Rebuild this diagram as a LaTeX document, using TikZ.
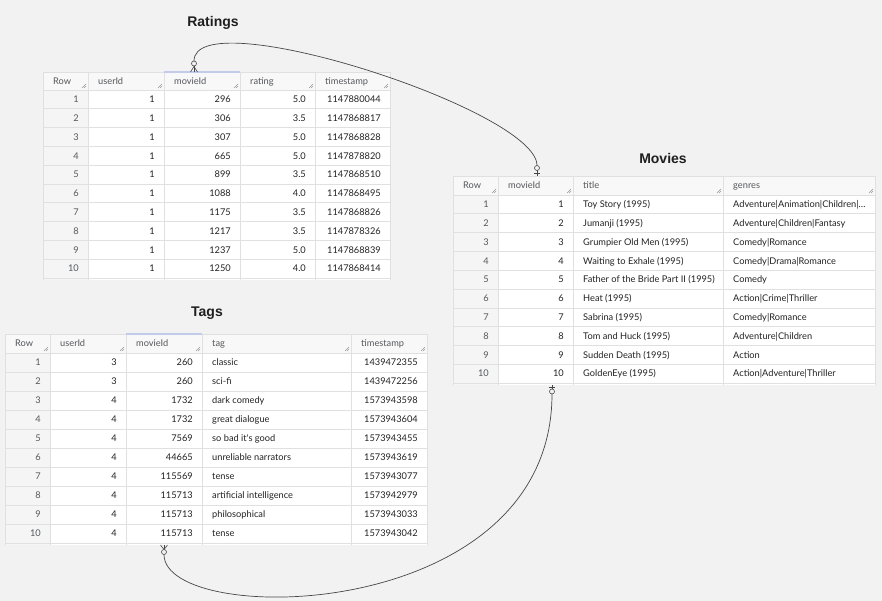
\documentclass[tikz,border=0pt]{standalone}
\usepackage{fontspec}
\setmainfont{Liberation Sans}
\newfontfamily\cellff{Lato}
\usetikzlibrary{calc}
\definecolor{canvas}{RGB}{242,242,242}
\definecolor{hdrbg}{RGB}{248,248,248}
\definecolor{rowbg}{RGB}{245,245,245}
\definecolor{gridc}{RGB}{224,224,224}
\definecolor{hdrtxt}{RGB}{85,88,92}
\definecolor{datatxt}{RGB}{35,35,35}
\definecolor{selc}{RGB}{195,203,235}
\definecolor{linkc}{RGB}{70,70,70}
\tikzset{
 cellfont/.style={font=\cellff\fontsize{9.25}{11}\selectfont, inner sep=0pt, text height=6.7pt, text depth=0pt},
 hdr/.style={cellfont, anchor=west, text=hdrtxt},
 rnum/.style={cellfont, anchor=east, text=hdrtxt},
 num/.style={cellfont, anchor=east, text=datatxt},
 txt/.style={cellfont, anchor=west, text=datatxt},
 ttl/.style={font=\bfseries\fontsize{14}{16}\selectfont, text=black!88, inner sep=0pt},
 gridl/.style={draw=gridc, line width=0.6pt},
 grip/.style={draw=black!40, line width=0.4pt},
 sel/.style={draw=selc, line width=1.5pt},
 link/.style={draw=linkc, line width=0.7pt},
 erm/.style={draw=linkc, line width=0.6pt},
 ercirc/.style={draw=linkc, fill=canvas, line width=0.6pt},
}
\begin{document}
\begin{tikzpicture}[x=1pt,y=-1pt]
\fill[canvas] (0,0) rectangle (882,601);
\useasboundingbox (0,0) rectangle (882,601);

% ---------------- Titles
\node[ttl] (tR) at (213,23) {Ratings};
\node[ttl] (tM) at (663,158) {Movies};
\node[ttl] (tT) at (207,313) {Tags};

% ---------------- Ratings table
\fill[white] (43,90) rectangle (390,280);
\fill[hdrbg] (43,72) rectangle (390,90);
\fill[rowbg] (43,90) rectangle (88,280);
\foreach \i in {0,...,10} \draw[gridl] (43,{90+\i*18.8}) -- (390,{90+\i*18.8});
\draw[gridl] (43,72) -- (390,72);
\foreach \x in {43,88,164,240,315,390} \draw[gridl] (\x,72) -- (\x,280);
\draw[sel] (164,72) -- (240,72);
\foreach \x in {88,164,240,315,390} {\draw[grip] (\x-6,88) -- (\x-2,84); \draw[grip] (\x-4,88) -- (\x-2,86);}
\node[hdr] (Rh1) at (53,81) {Row};
\node[hdr] (Rh2) at (98,81) {userId};
\node[hdr] (Rh3) at (174,81) {movieId};
\node[hdr] (Rh4) at (250,81) {rating};
\node[hdr] (Rh5) at (325,81) {timestamp};
\foreach \r/\a/\b/\c/\d in {1/1/296/5.0/1147880044, 2/1/306/3.5/1147868817, 3/1/307/5.0/1147868828, 4/1/665/5.0/1147878820, 5/1/899/3.5/1147868510, 6/1/1088/4.0/1147868495, 7/1/1175/3.5/1147868826, 8/1/1217/3.5/1147878326, 9/1/1237/5.0/1147868839, 10/1/1250/4.0/1147868414} {
 \node[rnum] (R-\r-1) at (79,{90+(\r-0.5)*18.8}) {\r};
 \node[num] (R-\r-2) at (155,{90+(\r-0.5)*18.8}) {\a};
 \node[num] (R-\r-3) at (231,{90+(\r-0.5)*18.8}) {\b};
 \node[num] (R-\r-4) at (306,{90+(\r-0.5)*18.8}) {\c};
 \node[num] (R-\r-5) at (381,{90+(\r-0.5)*18.8}) {\d};
}

% ---------------- Movies table
\fill[white] (453,195) rectangle (875,385);
\fill[hdrbg] (453,176) rectangle (875,195);
\fill[rowbg] (453,195) rectangle (498,385);
\foreach \i in {0,...,10} \draw[gridl] (453,{195+\i*18.8}) -- (875,{195+\i*18.8});
\draw[gridl] (453,176) -- (875,176);
\foreach \x in {453,498,573,723,875} \draw[gridl] (\x,176) -- (\x,385);
\foreach \x in {498,573,723,875} {\draw[grip] (\x-6,193) -- (\x-2,189); \draw[grip] (\x-4,193) -- (\x-2,191);}
\node[hdr] (Mh1) at (463,185.5) {Row};
\node[hdr] (Mh2) at (508,185.5) {movieId};
\node[hdr] (Mh3) at (583,185.5) {title};
\node[hdr] (Mh4) at (733,185.5) {genres};
\foreach \r/\t/\g in {1/Toy Story (1995)/Adventure|Animation|Children|…, 2/Jumanji (1995)/Adventure|Children|Fantasy, 3/Grumpier Old Men (1995)/Comedy|Romance, 4/Waiting to Exhale (1995)/Comedy|Drama|Romance, 5/Father of the Bride Part II (1995)/Comedy, 6/Heat (1995)/Action|Crime|Thriller, 7/Sabrina (1995)/Comedy|Romance, 8/Tom and Huck (1995)/Adventure|Children, 9/Sudden Death (1995)/Action, 10/GoldenEye (1995)/Action|Adventure|Thriller} {
 \node[rnum] (M-\r-1) at (489,{195+(\r-0.5)*18.8}) {\r};
 \node[num] (M-\r-2) at (564,{195+(\r-0.5)*18.8}) {\r};
 \node[txt] (M-\r-3) at (583,{195+(\r-0.5)*18.8}) {\t};
 \node[txt] (M-\r-4) at (733,{195+(\r-0.5)*18.8}) {\g};
}

% ---------------- Tags table
\fill[white] (5,353) rectangle (427,545);
\fill[hdrbg] (5,334) rectangle (427,353);
\fill[rowbg] (5,353) rectangle (50,545);
\foreach \i in {0,...,10} \draw[gridl] (5,{353+\i*19}) -- (427,{353+\i*19});
\draw[gridl] (5,334) -- (427,334);
\foreach \x in {5,50,126,202,351,427} \draw[gridl] (\x,334) -- (\x,545);
\draw[sel] (126,334) -- (202,334);
\foreach \x in {50,126,202,351,427} {\draw[grip] (\x-6,351) -- (\x-2,347); \draw[grip] (\x-4,351) -- (\x-2,349);}
\node[hdr] (Th1) at (15,343.5) {Row};
\node[hdr] (Th2) at (60,343.5) {userId};
\node[hdr] (Th3) at (136,343.5) {movieId};
\node[hdr] (Th4) at (212,343.5) {tag};
\node[hdr] (Th5) at (361,343.5) {timestamp};
\foreach \r/\a/\b/\c/\d in {1/3/260/classic/1439472355, 2/3/260/sci-fi/1439472256, 3/4/1732/dark comedy/1573943598, 4/4/1732/great dialogue/1573943604, 5/4/7569/so bad it's good/1573943455, 6/4/44665/unreliable narrators/1573943619, 7/4/115569/tense/1573943077, 8/4/115713/artificial intelligence/1573942979, 9/4/115713/philosophical/1573943033, 10/4/115713/tense/1573943042} {
 \node[rnum] (T-\r-1) at (41,{353+(\r-0.5)*19}) {\r};
 \node[num] (T-\r-2) at (117,{353+(\r-0.5)*19}) {\a};
 \node[num] (T-\r-3) at (193,{353+(\r-0.5)*19}) {\b};
 \node[txt] (T-\r-4) at (212,{353+(\r-0.5)*19}) {\c};
 \node[num] (T-\r-5) at (418,{353+(\r-0.5)*19}) {\d};
}

% ---------------- Connector end points
\coordinate (Rk) at (194,72);
\coordinate (Mk) at (537,176);
\coordinate (Mb) at (552,385);
\coordinate (Tk) at (164,545);

% Ratings end: zero or many
\draw[erm] ($(Rk)+(-3.5,0)$) -- ($(Rk)+(0,-5.5)$) -- ($(Rk)+(3.5,0)$);
\draw[erm] (Rk) -- ($(Rk)+(0,-6)$);
\draw[ercirc] ($(Rk)+(0,-8.5)$) circle[radius=2.5];
% Movies top end: zero or one
\draw[erm] (Mk) -- ($(Mk)+(0,-5.5)$);
\draw[erm] ($(Mk)+(-3,-3)$) -- ($(Mk)+(3,-3)$);
\draw[ercirc] ($(Mk)+(0,-8)$) circle[radius=2.5];
% Movies bottom end: zero or one
\draw[erm] (Mb) -- ($(Mb)+(0,4)$);
\draw[erm] ($(Mb)+(-3,2)$) -- ($(Mb)+(3,2)$);
\draw[ercirc] ($(Mb)+(0,6.5)$) circle[radius=2.5];
% Tags end: zero or many
\draw[erm] ($(Tk)+(-3.5,0)$) -- ($(Tk)+(0,4.5)$) -- ($(Tk)+(3.5,0)$);
\draw[erm] (Tk) -- ($(Tk)+(0,4)$);
\draw[ercirc] ($(Tk)+(0,7)$) circle[radius=2.5];

% Connectors
\draw[link] ($(Rk)+(0,-11)$) .. controls (194,0) and (537,110) .. ($(Mk)+(0,-10.5)$);
\draw[link] ($(Mb)+(0,9)$) .. controls (552,625) and (164,628) .. ($(Tk)+(0,9.5)$);
\end{tikzpicture}
\end{document}
